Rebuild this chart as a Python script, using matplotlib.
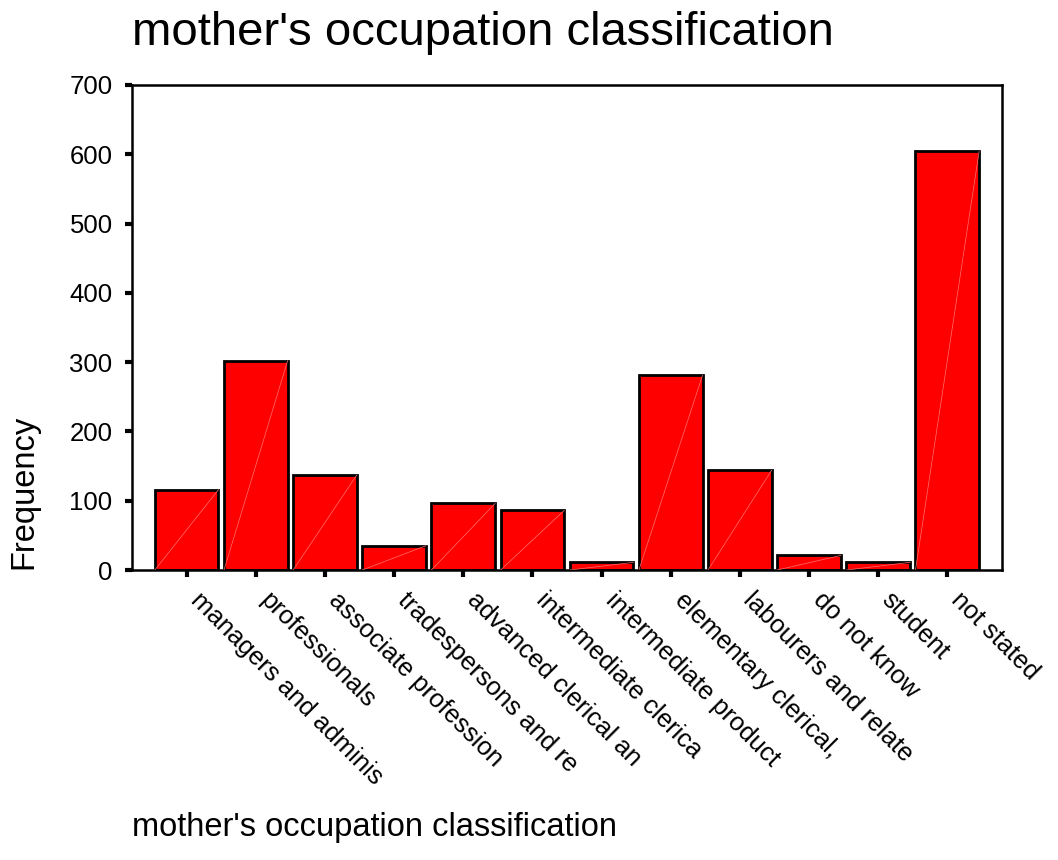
import matplotlib
matplotlib.use("Agg")
import matplotlib.pyplot as plt
import matplotlib.transforms as mtransforms
import numpy as np

# categorias e frequências
categorias = [
    "managers and adminis",
    "professionals",
    "associate profession",
    "tradespersons and re",
    "advanced clerical an",
    "intermediate clerica",
    "intermediate product",
    "elementary clerical,",
    "labourers and relate",
    "do not know",
    "student",
    "not stated",
]
frequencias = [116, 302, 137, 35, 96, 86, 11, 281, 144, 21, 11, 604]
y_ticks = [0, 100, 200, 300, 400, 500, 600, 700]

titulo = "mother's occupation classification"
rotulo_x = "mother's occupation classification"
rotulo_y = "Frequency"

plt.rcParams["font.family"] = ["Liberation Sans", "DejaVu Sans"]

fig = plt.figure(figsize=(10.58, 8.6), dpi=100)
ax = fig.add_axes([0.1248, 0.3372, 0.8222, 0.564])

x = np.arange(len(categorias))
largura = 0.92
ax.bar(x, frequencias, width=largura, color="#ff0000",
       edgecolor="black", linewidth=2.0, zorder=2)

# linha diagonal clara dentro de cada barra (artefato do original)
for xi, v in zip(x, frequencias):
    ax.plot([xi - largura / 2, xi + largura / 2], [0, v],
            color="#ff7070", lw=0.5, zorder=3)

ax.set_xlim(-0.79, 11.79)
ax.set_ylim(0, 700)
ax.set_yticks(y_ticks)
ax.set_xticks(x)

for s in ax.spines.values():
    s.set_linewidth(1.8)

ax.tick_params(axis="both", direction="out", length=5, width=3,
               labelsize=18.5, colors="black")
ax.tick_params(axis="y", pad=9)
ax.tick_params(axis="x", pad=8)

ax.set_xticklabels(categorias, rotation=-45, ha="left", va="top",
                   rotation_mode="anchor")
desloc = mtransforms.ScaledTranslation(16 / 100, 0, fig.dpi_scale_trans)
for lbl in ax.get_xticklabels():
    lbl.set_transform(lbl.get_transform() + desloc)

fig.text(132 / 1058, 1 - 45 / 860, titulo, fontsize=34,
         ha="left", va="baseline")
fig.text(132 / 1058, 1 - 836 / 860, rotulo_x, fontsize=23.5,
         ha="left", va="baseline")
fig.text(24 / 1058, 1 - 492 / 860, rotulo_y, fontsize=23.5,
         rotation=90, ha="center", va="center")

fig.savefig("out.png", dpi=100)
